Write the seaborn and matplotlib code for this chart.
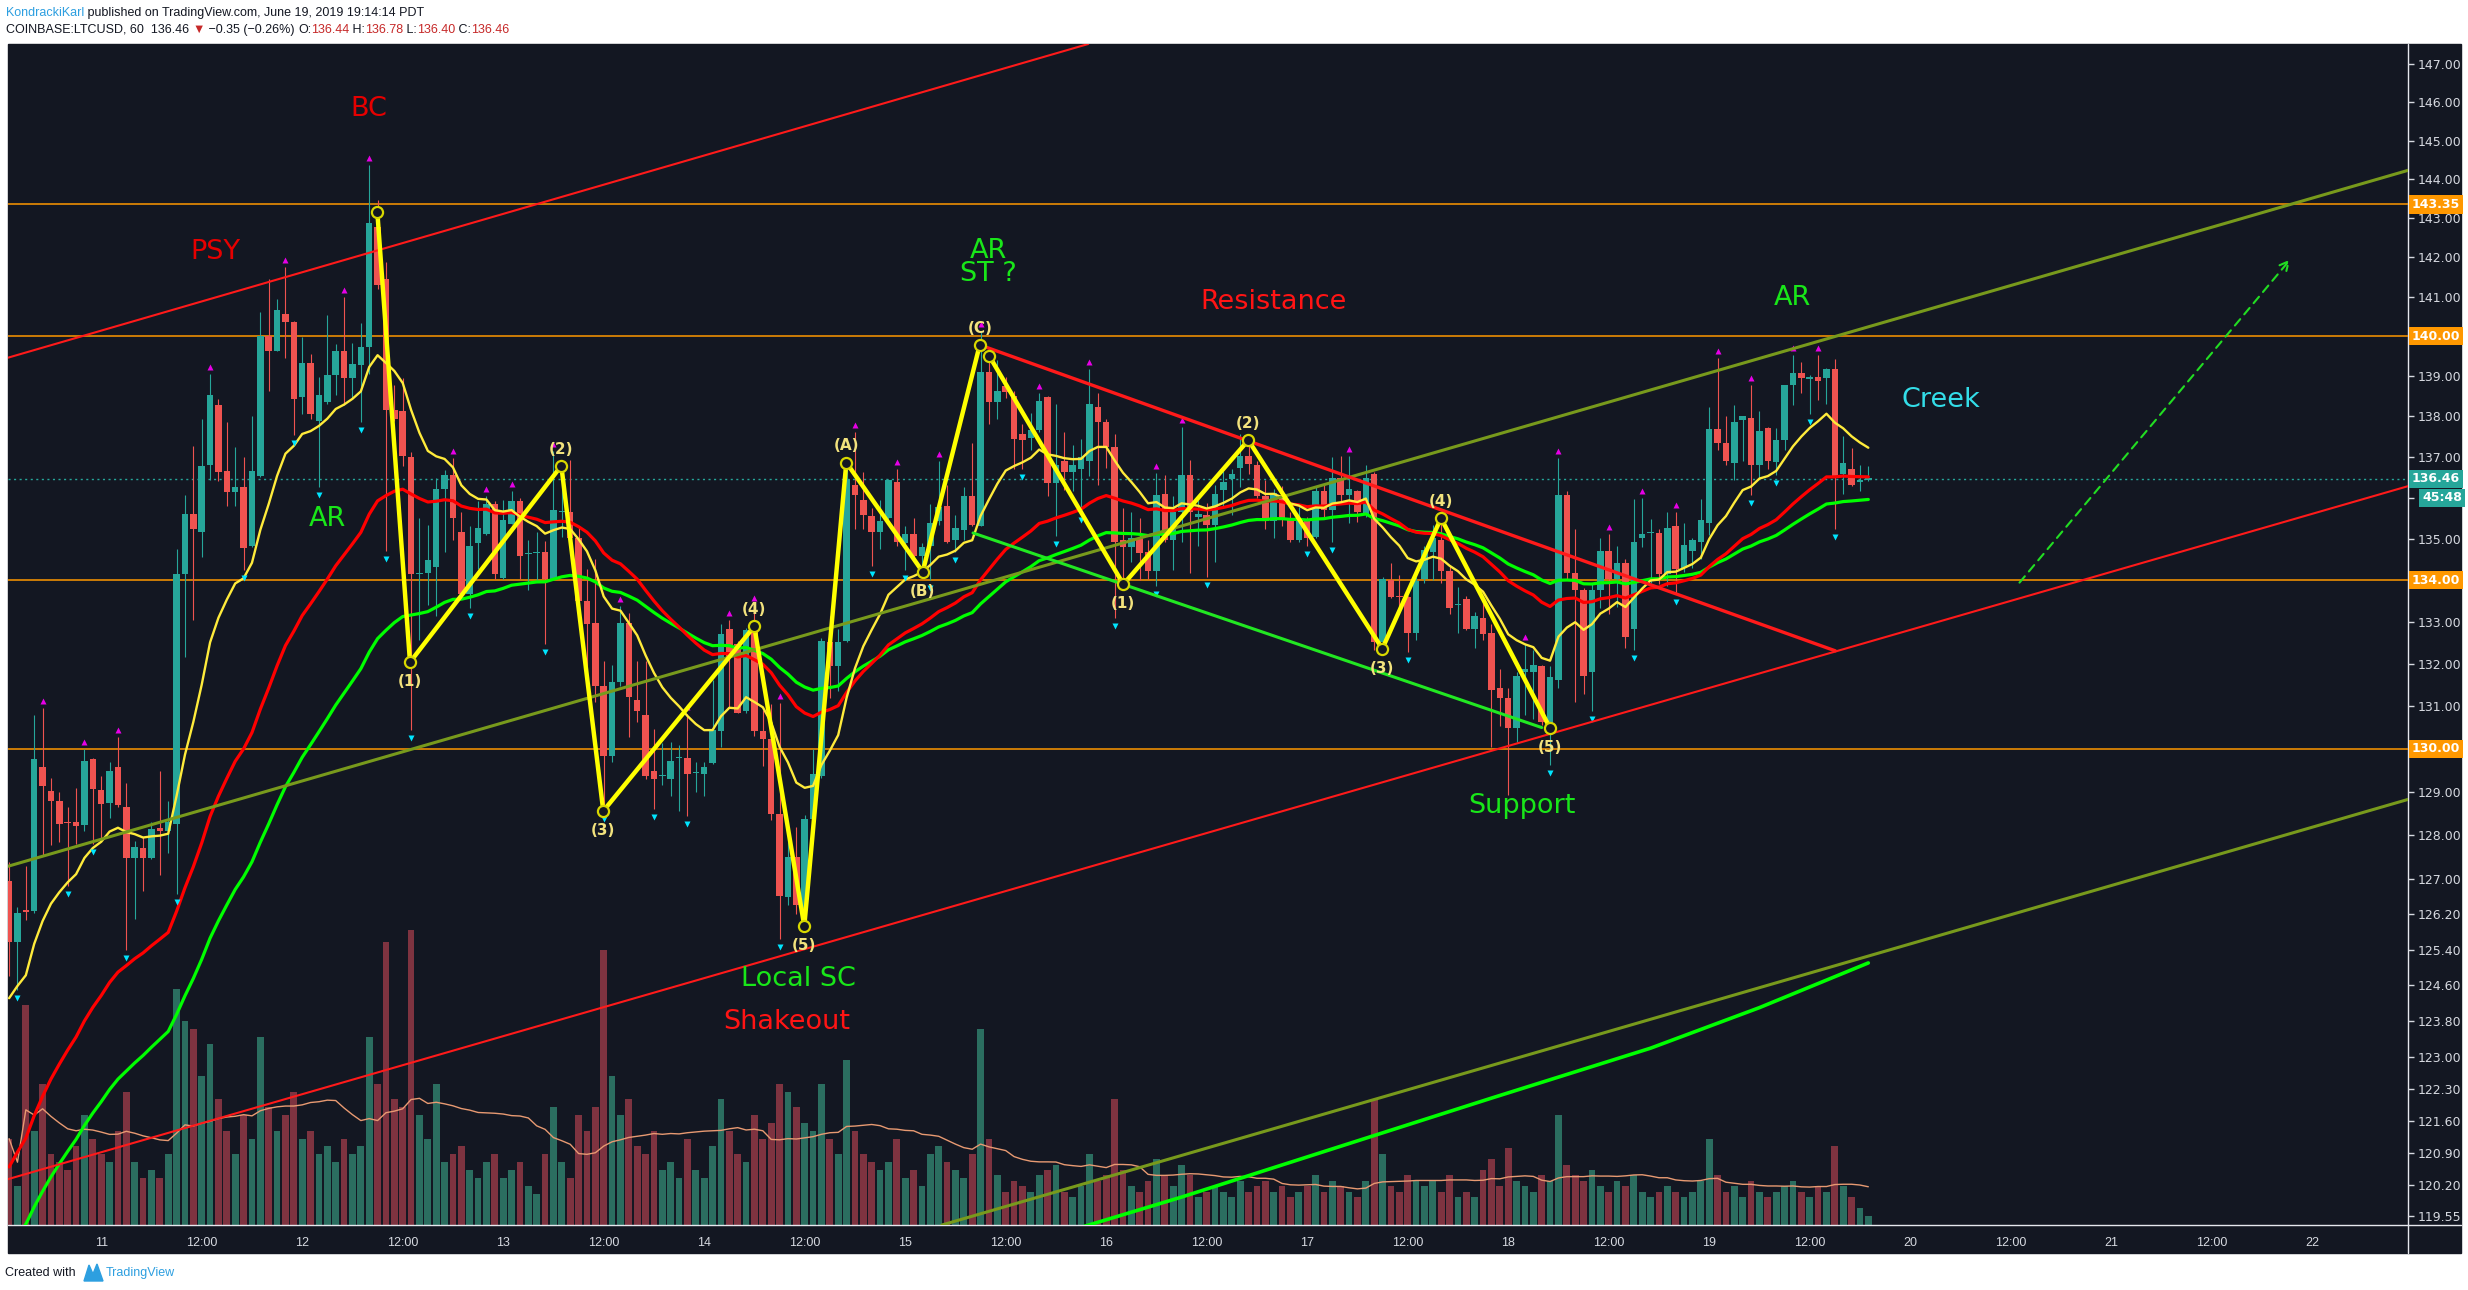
import numpy as np
import pandas as pd
import matplotlib
matplotlib.use("Agg")
import matplotlib.pyplot as plt
import matplotlib.transforms as mtrans
import seaborn as sns
from matplotlib import font_manager
from matplotlib.patches import Rectangle, Polygon
from matplotlib.lines import Line2D
from matplotlib.ticker import FixedLocator, FixedFormatter, NullLocator

# ---------------- data (hourly candles, hour 0 = June 11 00:00) ----------------
hours = list(range(-11, 212))
opens = [126.95, 125.57, 126.30, 126.27, 129.59, 129.03, 128.79, 128.30, 128.31, 128.24, 129.77,
         129.04, 128.75, 129.58, 128.66, 127.48, 127.71, 127.48, 128.17, 128.09, 128.27, 134.14,
         135.61, 135.16, 136.80, 138.27, 136.66, 136.14, 136.25, 134.82, 136.52, 140.00, 139.62,
         140.56, 140.35, 138.47, 139.32, 137.89, 138.36, 139.02, 139.62, 138.95, 139.28, 139.73,
         142.76, 141.45, 138.16, 138.13, 137.00, 134.14, 134.18, 134.31, 136.22, 136.56, 135.16,
         133.67, 134.89, 135.12, 135.85, 134.05, 135.36, 135.91, 134.63, 134.66, 134.68, 134.03,
         135.64, 135.66, 135.02, 133.50, 132.97, 131.48, 129.83, 131.58, 132.97, 131.15, 130.79,
         129.49, 129.37, 129.29, 129.78, 129.79, 129.44, 129.41, 129.67, 130.42, 132.83, 132.48,
         130.89, 132.86, 130.42, 130.24, 128.48, 126.59, 127.51, 126.34, 128.37, 129.36, 132.51,
         131.95, 132.55, 136.32, 135.94, 135.54, 135.16, 135.50, 136.39, 134.89, 135.12, 134.57,
         134.82, 135.43, 135.80, 134.96, 135.20, 136.04, 135.32, 139.11, 138.36, 138.75, 138.50,
         137.57, 137.46, 137.65, 138.47, 136.35, 136.89, 136.63, 136.70, 136.89, 138.23, 137.85,
         137.24, 134.96, 134.79, 135.02, 134.68, 134.21, 136.10, 134.96, 135.64, 136.56, 135.53,
         135.57, 135.34, 136.18, 136.45, 136.73, 137.03, 136.79, 136.04, 135.43, 136.07, 135.50,
         134.98, 135.43, 135.05, 136.15, 135.70, 136.48, 136.07, 136.15, 135.57, 136.59, 132.52,
         134.00, 133.63, 133.60, 132.74, 134.03, 134.68, 134.96, 134.21, 133.40, 133.54, 132.83,
         133.10, 132.74, 131.42, 131.19, 130.49, 131.81, 131.81, 131.94, 130.58, 131.61, 136.07,
         134.16, 133.76, 131.81, 133.76, 134.71, 134.03, 134.41, 132.83, 135.02, 135.14, 135.14,
         134.14, 135.30, 134.30, 134.71, 134.93, 135.39, 137.68, 137.34, 136.86, 137.92, 137.96,
         136.79, 137.70, 136.88, 137.41, 138.77, 139.08, 138.94, 138.98, 138.95, 139.18, 136.59,
         136.70, 136.39, 136.44]
highs = [127.38, 126.36, 127.30, 130.80, 130.96, 129.32, 129.00, 128.65, 129.10, 130.00, 129.80,
         129.38, 129.70, 130.27, 129.20, 127.87, 127.97, 128.31, 129.49, 128.79, 134.75, 136.07,
         137.27, 137.93, 139.05, 138.43, 137.85, 137.25, 137.00, 138.00, 140.62, 141.44, 140.95,
         141.76, 140.38, 139.97, 139.56, 138.98, 140.53, 139.80, 140.99, 139.84, 140.32, 144.38,
         143.46, 141.87, 138.77, 138.95, 137.11, 135.50, 135.34, 136.48, 136.67, 136.97, 135.64,
         135.30, 135.91, 136.04, 135.91, 135.94, 136.15, 136.00, 134.98, 135.16, 134.95, 137.14,
         136.90, 136.93, 135.29, 134.27, 134.50, 132.07, 131.98, 133.37, 133.20, 132.07, 132.07,
         130.47, 130.13, 130.16, 130.10, 130.81, 129.70, 129.70, 131.62, 132.96, 133.04, 132.54,
         132.86, 133.40, 130.92, 131.06, 131.08, 128.09, 128.18, 128.47, 130.00, 132.61, 133.14,
         132.83, 136.93, 137.60, 136.63, 135.75, 135.94, 136.45, 136.69, 135.30, 135.50, 134.89,
         135.84, 136.89, 136.32, 135.57, 136.25, 137.34, 140.14, 139.39, 139.39, 138.98, 138.64,
         137.82, 138.09, 138.57, 138.50, 138.30, 137.61, 137.30, 137.44, 139.18, 138.57, 137.93,
         137.57, 135.75, 135.66, 135.50, 134.98, 136.61, 136.56, 136.04, 137.74, 136.93, 135.94,
         135.88, 136.32, 136.66, 136.70, 137.57, 137.41, 136.89, 136.42, 136.21, 136.29, 135.64,
         135.77, 135.53, 136.25, 136.32, 137.00, 137.03, 137.03, 136.18, 136.79, 136.62, 134.07,
         134.41, 134.13, 133.63, 134.07, 134.82, 135.33, 135.50, 134.34, 133.84, 133.63, 133.23,
         133.47, 132.94, 131.88, 131.42, 131.81, 132.48, 132.34, 131.98, 131.94, 136.97, 136.15,
         135.23, 133.80, 133.90, 135.02, 135.12, 134.82, 134.52, 135.96, 136.00, 135.48, 135.23,
         135.64, 135.66, 135.39, 135.02, 135.97, 138.23, 139.46, 138.02, 138.27, 138.02, 138.78,
         138.14, 137.74, 137.70, 138.77, 139.53, 139.34, 139.02, 139.53, 139.20, 139.43, 137.51,
         137.21, 136.79, 136.78]
lows = [124.80, 124.50, 126.07, 126.23, 127.55, 127.77, 127.84, 126.85, 127.80, 128.10, 127.80,
        127.90, 128.40, 128.66, 125.38, 126.10, 126.73, 127.45, 127.10, 127.60, 126.65, 132.17,
        133.05, 134.55, 136.43, 136.40, 135.80, 135.80, 134.25, 134.80, 136.50, 138.64, 139.62,
        139.45, 137.55, 138.06, 137.93, 136.25, 138.30, 138.53, 138.27, 138.43, 137.85, 139.05,
        141.20, 134.71, 137.89, 136.77, 130.45, 132.57, 133.40, 133.14, 134.68, 134.98, 133.60,
        133.34, 134.27, 135.10, 134.03, 134.03, 135.36, 134.03, 133.76, 134.00, 132.47, 134.00,
        135.05, 135.00, 133.00, 131.55, 131.09, 128.56, 129.70, 131.48, 130.27, 130.62, 129.30,
        128.60, 129.17, 128.91, 128.56, 128.44, 129.00, 128.90, 129.64, 130.05, 130.96, 130.83,
        130.83, 130.30, 129.60, 128.35, 125.64, 126.40, 126.21, 125.96, 128.37, 129.33, 131.19,
        131.35, 132.51, 135.23, 135.23, 134.34, 134.75, 135.47, 134.82, 134.25, 134.48, 134.20,
        134.00, 135.34, 134.89, 134.68, 134.96, 135.30, 135.30, 137.82, 137.93, 138.45, 136.70,
        136.70, 137.16, 137.61, 136.05, 135.06, 136.18, 136.15, 135.64, 136.52, 136.30, 136.73,
        133.10, 133.93, 134.44, 134.00, 134.03, 133.87, 134.93, 134.25, 134.93, 134.16, 134.82,
        134.07, 134.44, 135.75, 135.57, 136.25, 136.59, 135.98, 135.23, 135.02, 135.30, 134.93,
        134.93, 134.82, 135.02, 135.50, 134.91, 135.91, 135.37, 135.40, 135.53, 132.34, 132.41,
        133.58, 133.23, 132.28, 132.57, 133.93, 134.00, 133.93, 133.18, 132.74, 132.80, 132.38,
        132.57, 130.05, 130.53, 128.94, 130.16, 130.79, 130.70, 130.55, 129.62, 131.42, 134.00,
        131.11, 131.30, 130.90, 133.34, 133.18, 133.36, 132.38, 132.34, 134.79, 133.93, 133.90,
        133.85, 133.67, 134.20, 134.30, 134.52, 135.09, 137.16, 136.79, 136.43, 136.89, 136.07,
        136.48, 136.70, 136.56, 137.16, 138.29, 138.57, 138.06, 138.40, 138.30, 135.23, 136.08,
        136.28, 136.15, 136.40]
closes = [125.57, 126.23, 126.26, 129.77, 129.13, 128.79, 128.27, 128.28, 128.22, 129.71, 129.07,
          128.71, 129.49, 128.70, 127.48, 127.74, 127.48, 128.14, 128.09, 128.30, 134.14, 135.61,
          135.23, 136.77, 138.53, 136.62, 136.14, 136.25, 134.78, 136.66, 140.00, 139.62, 140.66,
          140.35, 138.43, 139.32, 138.06, 138.53, 139.02, 139.62, 138.95, 139.29, 139.73, 142.87,
          141.30, 138.16, 137.93, 137.03, 134.14, 134.18, 134.48, 136.21, 136.56, 135.50, 133.67,
          134.82, 135.25, 135.85, 134.14, 135.46, 135.91, 134.57, 134.66, 134.68, 134.03, 135.71,
          135.66, 135.02, 133.50, 132.94, 131.48, 129.83, 131.58, 132.97, 131.22, 130.89, 129.36,
          129.29, 129.40, 129.72, 129.79, 129.41, 129.44, 129.59, 130.45, 132.70, 132.17, 130.85,
          132.80, 130.42, 130.24, 128.48, 126.62, 127.51, 126.40, 128.37, 129.41, 132.55, 131.95,
          132.51, 136.45, 136.07, 135.57, 135.16, 135.43, 136.43, 134.93, 135.12, 134.57, 134.79,
          135.39, 135.77, 134.93, 135.27, 136.04, 135.34, 139.09, 138.36, 138.64, 138.61, 137.44,
          137.41, 137.65, 138.39, 136.35, 136.80, 136.63, 136.79, 137.00, 138.30, 137.85, 137.24,
          134.93, 134.79, 135.02, 134.66, 134.21, 136.07, 134.96, 135.66, 136.56, 135.66, 135.61,
          135.34, 136.10, 136.39, 136.59, 137.03, 136.82, 136.04, 135.43, 136.11, 135.50, 134.96,
          135.50, 135.02, 136.15, 135.70, 136.48, 136.07, 136.21, 135.66, 136.48, 132.52, 134.03,
          133.60, 133.60, 132.74, 133.97, 134.72, 135.02, 134.21, 133.34, 133.42, 132.83, 133.14,
          132.70, 131.38, 131.19, 130.49, 131.72, 131.88, 131.98, 130.62, 131.68, 136.07, 134.16,
          133.76, 131.72, 133.76, 134.71, 134.03, 134.41, 132.65, 134.91, 135.12, 135.16, 134.14,
          135.27, 134.27, 134.84, 134.96, 135.46, 137.68, 137.34, 136.89, 137.85, 138.02, 136.79,
          137.64, 136.89, 137.41, 138.77, 139.07, 138.95, 138.98, 138.88, 139.18, 136.52, 136.86,
          136.32, 136.43, 136.46]
volumes = [55, 25, 140, 60, 90, 45, 40, 35, 50, 70, 55,
           45, 40, 60, 85, 40, 30, 35, 30, 45,
           150, 130, 125, 95, 115, 80, 60, 45, 70, 55, 120,
           75, 60, 70, 85, 55, 60, 45, 50, 40, 55, 45, 50,
           120, 90, 180, 80, 75, 188, 70, 55, 90,
           40, 45, 50, 35, 30, 40, 45, 30, 35, 40, 25, 20, 45, 75, 40, 30, 70, 60, 75,
           175, 95, 70, 80, 50, 45, 60, 35, 40, 30,
           55, 35, 30, 50, 80, 60, 45, 40, 70, 55, 65, 90, 85, 75, 65, 60, 90, 55, 45,
           105, 60, 45, 40, 35, 40, 55, 30, 35, 25, 45, 50, 40, 35, 30, 45, 125,
           55, 32, 21, 28, 25, 21, 32, 35, 38, 21, 18, 25, 45, 28, 32, 80, 35, 25, 21, 28,
           42, 32, 25, 38, 32, 18, 21, 25, 21, 18, 28, 21, 25, 28, 21, 25, 18, 21, 25, 32,
           21, 28, 25, 21, 18, 28,
           80, 45, 25, 21, 32, 28, 25, 28, 21, 32, 18, 21, 18, 35, 42, 25, 49, 28, 25, 21, 32, 28,
           70, 38, 32, 28, 35, 25, 21, 28, 25, 32, 21, 18, 21, 25, 21, 18, 21, 28,
           55, 32, 21, 25, 18, 28, 21, 18, 21, 25, 28, 21, 18, 25, 21, 50, 25, 18, 11, 6]

# fractal markers (candle hours)
fractal_up = [-7, -2, 2, 13, 22, 29, 32, 42, 46, 49, 54, 62, 70, 75, 78, 81, 90, 95, 100, 105,
              112, 118, 126, 129, 149, 170, 174, 180, 184, 188, 193, 197, 202, 205]
fractal_dn = [-10, -4, -1, 3, 9, 17, 23, 26, 31, 34, 37, 44, 53, 60, 66, 70, 81, 92, 96, 99, 102,
              110, 114, 117, 121, 126, 132, 144, 147, 156, 173, 178, 183, 188, 197, 200, 204, 207]

# moving averages: (span, value before first candle)
ema_fast = (13, 124.1)
ema_mid = (34, 120.3)
ema_slow = (55, 118.6)
ma_long_hours = [110, 117, 129, 148, 166, 185, 198, 211]
ma_long_vals = [118.9, 119.3, 119.95, 121.05, 122.1, 123.2, 124.1, 125.1]

# drawings (hour, price)
levels = [143.35, 140.00, 134.00, 130.00]
red_upper = [(-11.13, 139.46), (64.3, 144.13)]
olive_upper = [(-11.13, 127.29), (212.39, 140.32)]
red_lower = [(63.14, 124.28), (212.39, 132.60)]
olive_lower = [(100.0, 119.33), (212.39, 125.33)]
resistance_line = [(104.9, 139.78), (207.06, 132.31)]
support_line = [(104.1, 135.14), (172.0, 130.50)]
wave1_h = [32.97, 36.87, 54.94, 59.95, 77.98, 83.95, 88.97, 98.09, 104.9]
wave1_p = [143.15, 132.04, 136.78, 128.56, 132.89, 125.93, 136.86, 134.20, 139.78]
wave1_lbl = ["", "(1)", "(2)", "(3)", "(4)", "(5)", "(A)", "(B)", "(C)"]
wave2_h = [106.05, 122.05, 136.97, 152.97, 159.98, 172.99]
wave2_p = [139.50, 133.90, 137.41, 132.36, 135.50, 130.49]
wave2_lbl = ["", "(1)", "(2)", "(3)", "(4)", "(5)"]
arrow_start = (229.05, 133.94)
arrow_end = (261.37, 141.94)

notes = [("BC", 31.9, 145.84, "#e60000"), ("PSY", 13.66, 142.14, "#e60000"),
         ("AR", 27.0, 135.47, "#19e619"), ("AR", 105.9, 142.15, "#19e619"),
         ("ST ?", 105.9, 141.58, "#19e619"), ("Resistance", 139.96, 140.86, "#ff1414"),
         ("AR", 201.98, 140.97, "#19e619"), ("Creek", 219.65, 138.41, "#33dde8"),
         ("Support", 169.65, 128.67, "#19e619"), ("Local SC", 83.2, 124.73, "#19e619"),
         ("Shakeout", 81.9, 123.78, "#ff1414")]

ytick_vals = [147, 146, 145, 144, 143, 142, 141, 139, 138, 137, 136, 135, 133, 132, 131,
              129, 128, 127, 126.2, 125.4, 124.6, 123.8, 123.0, 122.3, 121.6, 120.9, 120.2, 119.55]
xtick_hours = list(range(0, 265, 12))
xtick_labels = ["11", "12:00", "12", "12:00", "13", "12:00", "14", "12:00", "15", "12:00",
                "16", "12:00", "17", "12:00", "18", "12:00", "19", "12:00", "20", "12:00",
                "21", "12:00", "22"]

# ---------------- style ----------------
BG = "#131722"
TEAL = "#26a69a"
RED = "#ef5350"
AXTXT = "#d6d9e0"
W, H = 2468, 1290

sns.set_theme(style="dark", rc={"axes.facecolor": BG, "figure.facecolor": "white"})
plt.rcParams["font.family"] = ["DejaVu Sans"]
installed = {f.name for f in font_manager.fontManager.ttflist}
if "Liberation Sans Narrow" in installed:
    HFONT, HSIZE = ["Liberation Sans Narrow", "DejaVu Sans"], 11
else:
    HFONT, HSIZE = ["Liberation Sans", "DejaVu Sans"], 9

fig = plt.figure(figsize=(W / 100, H / 100), dpi=100)
fig.patches.append(Rectangle((8 / W, 1 - 1253 / H), (2461 - 8) / W, (1253 - 44) / H,
                             transform=fig.transFigure, color=BG, zorder=0))
rect = [8 / W, 1 - 1225 / H, 2400 / W, (1225 - 44) / H]
ax_v = fig.add_axes(rect, zorder=1)
ax = fig.add_axes(rect, zorder=2)
ax.patch.set_alpha(0)

df = pd.DataFrame(dict(h=hours, o=opens, hi=highs, lo=lows, c=closes, v=volumes))
up = (df.c >= df.o).values
xlim = (-11.13, 275.44)

# volume pane
vcol = np.where(up, "#2b6e60", "#7e3340")
ax_v.bar(df.h, df.v, width=0.8, color=vcol, linewidth=0)
df["vma"] = df.v.rolling(20, min_periods=1).mean()
sns.lineplot(data=df, x="h", y="vma", ax=ax_v, color="#e89a72", lw=1.0)
ax_v.set_xlim(*xlim)
ax_v.set_ylim(0, df.v.max() * 4.0)
ax_v.set_facecolor(BG)
ax_v.set_xticks([]); ax_v.set_yticks([])
ax_v.set_xlabel(""); ax_v.set_ylabel("")
for s in ax_v.spines.values():
    s.set_visible(False)

# price pane
ax.set_yscale("log")
ax.set_xlim(*xlim)
ax.set_ylim(119.35, 147.54)

for lv in levels:
    ax.axhline(lv, color="#ff9800", lw=1.1, zorder=2)
ax.axhline(closes[-1], color=TEAL, lw=1.0, ls=(0, (1.5, 2.5)), zorder=2)

col = np.where(up, TEAL, RED)
ax.vlines(df.h, df.lo, df.hi, colors=col, lw=0.8, zorder=3)
body = (df.c - df.o).abs().clip(lower=0.03)
ax.bar(df.h, body, bottom=np.minimum(df.o, df.c), width=0.78, color=col, linewidth=0, zorder=4)

# EMAs
def ema(span, seed):
    s = pd.Series([seed] + closes)
    return s.ewm(span=span, adjust=False).mean().iloc[1:].values

df["ema_fast"] = ema(*ema_fast)
df["ema_mid"] = ema(*ema_mid)
df["ema_slow"] = ema(*ema_slow)
sns.lineplot(data=df, x="h", y="ema_slow", ax=ax, color="#00ff00", lw=2.3, zorder=5)
sns.lineplot(data=df, x="h", y="ema_mid", ax=ax, color="#ff0000", lw=2.3, zorder=5)
sns.lineplot(data=df, x="h", y="ema_fast", ax=ax, color="#ffeb3b", lw=1.7, zorder=5)
ma_long = pd.DataFrame(dict(h=ma_long_hours, p=ma_long_vals))
sns.lineplot(data=ma_long, x="h", y="p", ax=ax, color="#00ff00", lw=2.6, zorder=5)

# fractals
up_tr = mtrans.offset_copy(ax.transData, fig=fig, x=0, y=7, units="dots")
dn_tr = mtrans.offset_copy(ax.transData, fig=fig, x=0, y=-8, units="dots")
fu = df.set_index("h").loc[fractal_up]
fd = df.set_index("h").loc[fractal_dn]
ax.plot(fu.index, fu.hi, ls="", marker="^", ms=4.5, color="#e600e6", mec="none",
        transform=up_tr, zorder=6)
ax.plot(fd.index, fd.lo, ls="", marker="v", ms=4.5, color="#00e5ff", mec="none",
        transform=dn_tr, zorder=6)

# trend lines
ax.axline(*red_upper, color="#ff1a1a", lw=1.5, zorder=6)
ax.axline(*olive_upper, color="#789a1c", lw=2.2, zorder=6)
ax.axline(*red_lower, color="#ff1a1a", lw=1.5, zorder=6)
ax.axline(*olive_lower, color="#789a1c", lw=2.2, zorder=6)
for seg, c, lw in [(resistance_line, "#ff1a1a", 2.4), (support_line, "#22e822", 2.2)]:
    ax.plot([seg[0][0], seg[1][0]], [seg[0][1], seg[1][1]], color=c, lw=lw, zorder=6,
            solid_capstyle="round")

# waves
for wh, wp, wl in [(wave1_h, wave1_p, wave1_lbl), (wave2_h, wave2_p, wave2_lbl)]:
    ax.plot(wh, wp, color="#ffff00", lw=3.2, zorder=7, solid_joinstyle="round")
    ax.plot(wh, wp, ls="", marker="o", ms=8, mfc=BG, mec="#d8d800", mew=1.6, zorder=8)
    for i, (x, y, t) in enumerate(zip(wh, wp, wl)):
        if not t:
            continue
        above = wp[i] > wp[i - 1]
        ax.annotate(t, (x, y), xytext=(0, 12 if above else -14), textcoords="offset points",
                    ha="center", va="center", fontsize=11, fontweight="bold",
                    color="#f2e27d", zorder=9)

ax.annotate("", xy=arrow_end, xytext=arrow_start,
            arrowprops=dict(arrowstyle="->", color="#22dd22", lw=1.5, ls=(0, (4, 3)),
                            shrinkA=0, shrinkB=0, mutation_scale=16), zorder=7)

for t, x, y, c in notes:
    ax.text(x, y, t, color=c, fontsize=19.5, ha="center", va="center", zorder=9)

# axes
for s in ax.spines.values():
    s.set_visible(False)
ax.grid(False)
ax.yaxis.tick_right()
ax.yaxis.set_major_locator(FixedLocator(ytick_vals))
ax.yaxis.set_major_formatter(FixedFormatter([f"{v:.2f}" for v in ytick_vals]))
ax.yaxis.set_minor_locator(NullLocator())
ax.set_xticks(xtick_hours)
ax.set_xticklabels(xtick_labels)
ax.tick_params(axis="y", which="both", direction="out", length=4, width=1, color=AXTXT,
               labelcolor=AXTXT, labelsize=9, pad=3, right=True, left=False)
ax.tick_params(axis="x", direction="out", length=4, width=1, color=AXTXT,
               labelcolor=AXTXT, labelsize=HSIZE, pad=5)
for lab in ax.get_xticklabels():
    lab.set_family(HFONT)
ax.set_xlabel(""); ax.set_ylabel("")

# axis separator lines
fig.add_artist(Line2D([8 / W, 2461 / W], [1 - 1225 / H] * 2, color="#e6e8ee", lw=1.0))
fig.add_artist(Line2D([2408 / W] * 2, [1 - 44 / H, 1 - 1253 / H], color="#e6e8ee", lw=1.0))

# price-scale highlight boxes
def scale_box(y, text, fc, dy=0, dx=4):
    ax.annotate(text, (1.0, y), xycoords=("axes fraction", "data"), xytext=(dx, dy),
                textcoords="offset pixels", ha="left", va="center", fontsize=9,
                fontweight="bold", color="white", annotation_clip=False, zorder=10,
                bbox=dict(boxstyle="square,pad=0.22", fc=fc, ec="none"))

for lv in levels:
    scale_box(lv, f"{lv:.2f}", "#ff9800")
scale_box(closes[-1], f"{closes[-1]:.2f}", TEAL)
scale_box(closes[-1], "45:48", TEAL, dy=-19, dx=14)

# header
renderer = fig.canvas.get_renderer()

def text_row(pieces, x_px, y_px, size):
    x = x_px
    for txt, c in pieces:
        t = fig.text(x / W, 1 - y_px / H, txt, color=c, fontsize=size, va="center",
                     ha="left", family=HFONT)
        x = t.get_window_extent(renderer).x1

DARK = "#131722"
HRED = "#c62828"
BLUE = "#2d9fe0"
text_row([("KondrackiKarl", BLUE),
          (" published on TradingView.com, June 19, 2019 19:14:14 PDT", DARK)], 6, 13, HSIZE)
text_row([("COINBASE:LTCUSD, 60  136.46 ", DARK), ("▼", HRED), (" \u22120.35 (\u22120.26%) ", DARK),
          ("O:", DARK), ("136.44", HRED), (" H:", DARK), ("136.78", HRED),
          (" L:", DARK), ("136.40", HRED), (" C:", DARK), ("136.46", HRED)], 6, 30, HSIZE)

# footer
text_row([("Created with", DARK)], 5, 1273, HSIZE)
fig.patches.append(Polygon([(84 / W, 1 - 1281 / H), (89 / W, 1 - 1265 / H), (93 / W, 1 - 1274 / H),
                            (97 / W, 1 - 1264 / H), (103 / W, 1 - 1281 / H)],
                           closed=True, transform=fig.transFigure, color=BLUE, zorder=3))
text_row([("TradingView", BLUE)], 106, 1273, HSIZE)

fig.savefig("out.png", dpi=100, facecolor="white")
